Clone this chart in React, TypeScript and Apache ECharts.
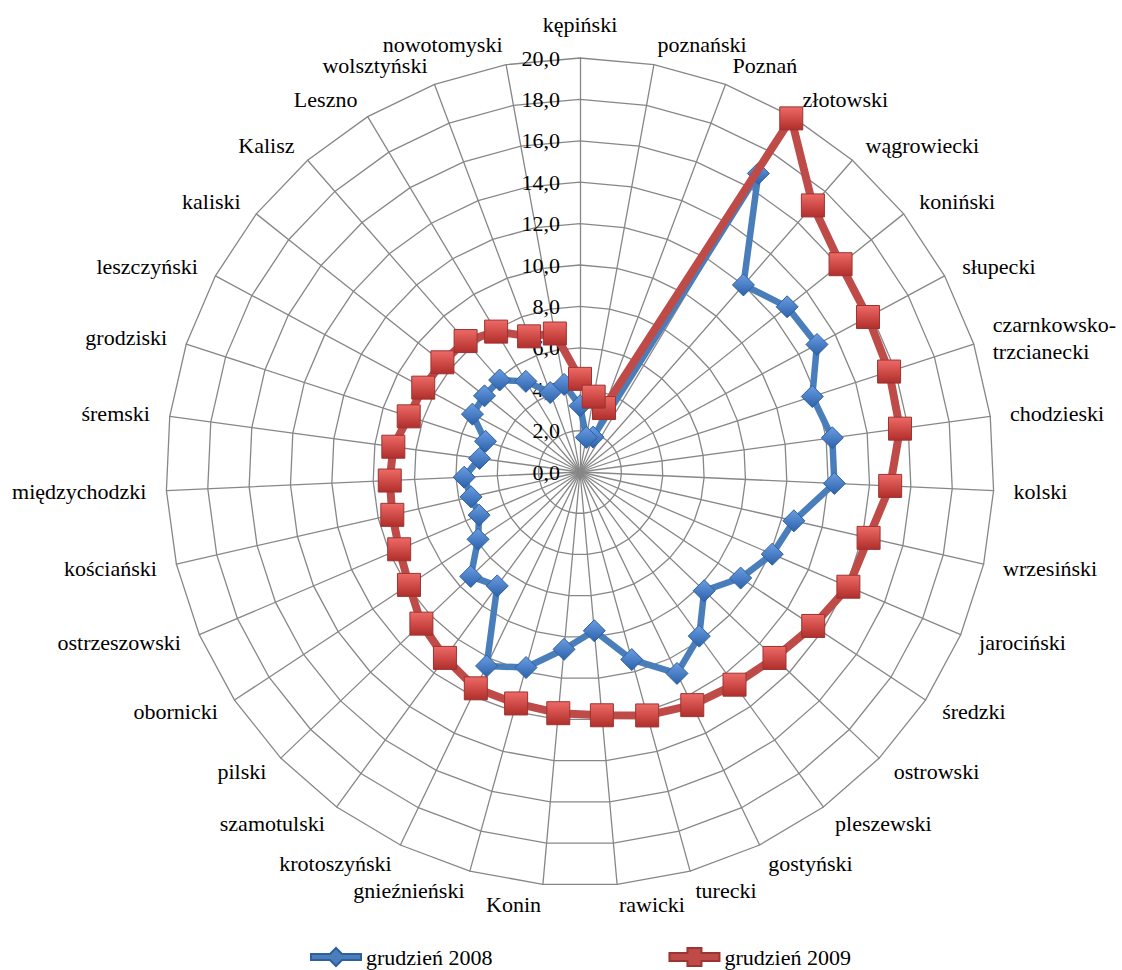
import React, { useEffect, useRef } from 'react';
import * as echarts from 'echarts';

// Categories in clockwise order starting from the top spoke
const categories = [
  'kępiński', 'poznański', 'Poznań', 'złotowski', 'wągrowiecki', 'koniński', 'słupecki',
  'czarnkowsko-\ntrzcianecki', 'chodzieski', 'kolski', 'wrzesiński', 'jarociński', 'średzki',
  'ostrowski', 'pleszewski', 'gostyński', 'turecki', 'rawicki', 'Konin', 'gnieźnieński',
  'krotoszyński', 'szamotulski', 'pilski', 'obornicki', 'ostrzeszowski', 'kościański',
  'międzychodzki', 'śremski', 'grodziski', 'leszczyński', 'kaliski', 'Kalisz', 'Leszno',
  'wolsztyński', 'nowotomyski',
];

const values2008 = [
  3.2, 1.7, 1.8, 16.8, 12.0, 12.8, 13.0, 11.8, 12.3, 12.3, 10.6, 10.1, 9.3, 8.3, 9.8, 10.8,
  9.4, 7.7, 8.6, 9.8, 10.4, 6.8, 7.3, 5.9, 5.3, 5.4, 5.6, 4.9, 4.8, 5.9, 5.9, 5.9, 5.1, 4.1, 4.3,
];

const values2009 = [
  4.5, 3.7, 3.3, 19.9, 17.1, 16.1, 15.8, 15.7, 15.6, 15.0, 14.3, 14.1, 13.5, 13.0, 12.7, 12.5,
  12.2, 11.8, 11.7, 11.6, 11.6, 11.1, 10.6, 9.9, 9.5, 9.3, 9.2, 9.1, 8.7, 8.6, 8.5, 8.4, 7.9, 7.0, 6.8,
];

const seriesNames = ['grudzień 2008', 'grudzień 2009'];
const axisMin = 0;
const axisMax = 20;
const axisSplits = 10;

// ECharts lays radar indicators out counter-clockwise; reorder so the picture runs clockwise
function clockwiseOrder<T>(arr: T[]): T[] {
  return [arr[0], ...arr.slice(1).reverse()];
}

const FONT = 'serif';

export default function App() {
  const ref = useRef<HTMLDivElement>(null);

  useEffect(() => {
    if (!ref.current) return;
    const chart = echarts.init(ref.current, undefined, { renderer: 'svg' });

    const indicator = clockwiseOrder(categories).map((name, i) => {
      const ind: any = { name, min: axisMin, max: axisMax };
      if (i === 0) {
        ind.axisLabel = {
          show: true,
          margin: 20,
          color: '#000',
          fontFamily: FONT,
          fontSize: 22,
          formatter: (v: number) => v.toFixed(1).replace('.', ','),
        };
      }
      return ind;
    });

    const blueGrad = {
      type: 'linear', x: 0, y: 0, x2: 0, y2: 1,
      colorStops: [
        { offset: 0, color: '#6b9de2' },
        { offset: 1, color: '#2b62ab' },
      ],
    };
    const redGrad = {
      type: 'linear', x: 0, y: 0, x2: 0, y2: 1,
      colorStops: [
        { offset: 0, color: '#ee6a66' },
        { offset: 1, color: '#b02e2b' },
      ],
    };

    chart.setOption({
      animation: false,
      backgroundColor: '#ffffff',
      textStyle: { fontFamily: FONT },
      legend: {
        top: 941,
        left: 305,
        itemWidth: 50,
        itemHeight: 18,
        itemGap: 176,
        textStyle: { fontFamily: FONT, fontSize: 22, color: '#000' },
        data: [
          {
            name: seriesNames[0],
            icon: 'path://M0,6 H19 L25,0 L31,6 H50 V12 H31 L25,18 L19,12 H0 Z',
            itemStyle: { color: '#4a7ebb' },
          },
          {
            name: seriesNames[1],
            icon: 'path://M0,5 H18 V0 H32 V5 H50 V13 H32 V18 H18 V13 H0 Z',
            itemStyle: { color: '#be4b48' },
          },
        ],
      },
      radar: {
        center: [580, 472],
        radius: 414,
        startAngle: 90,
        shape: 'polygon',
        splitNumber: axisSplits,
        indicator,
        nameGap: 20,
        axisName: { color: '#000', fontFamily: FONT, fontSize: 22, lineHeight: 27 },
        axisLine: { lineStyle: { color: '#878787', width: 1.3 } },
        splitLine: { lineStyle: { color: '#878787', width: 1.3 } },
        splitArea: { show: false },
        axisTick: { show: false },
        axisLabel: { show: false },
      },
      series: [
        {
          type: 'radar',
          z: 2,
          symbol: 'diamond',
          symbolSize: 22,
          lineStyle: { color: '#4a7ebb', width: 6.5 },
          itemStyle: { color: blueGrad, borderColor: '#2f5f9e', borderWidth: 1 },
          data: [{ name: seriesNames[0], value: clockwiseOrder(values2008) }],
        },
        {
          type: 'radar',
          z: 3,
          symbol: 'rect',
          symbolSize: 23,
          lineStyle: { color: '#be4b48', width: 8 },
          itemStyle: { color: redGrad, borderColor: '#9b3432', borderWidth: 1 },
          data: [{ name: seriesNames[1], value: clockwiseOrder(values2009) }],
        },
      ],
    });

    return () => chart.dispose();
  }, []);

  return (
    <div
      ref={ref}
      style={{ position: 'fixed', left: 0, top: 0, width: 1122, height: 970, background: '#fff' }}
    />
  );
}
